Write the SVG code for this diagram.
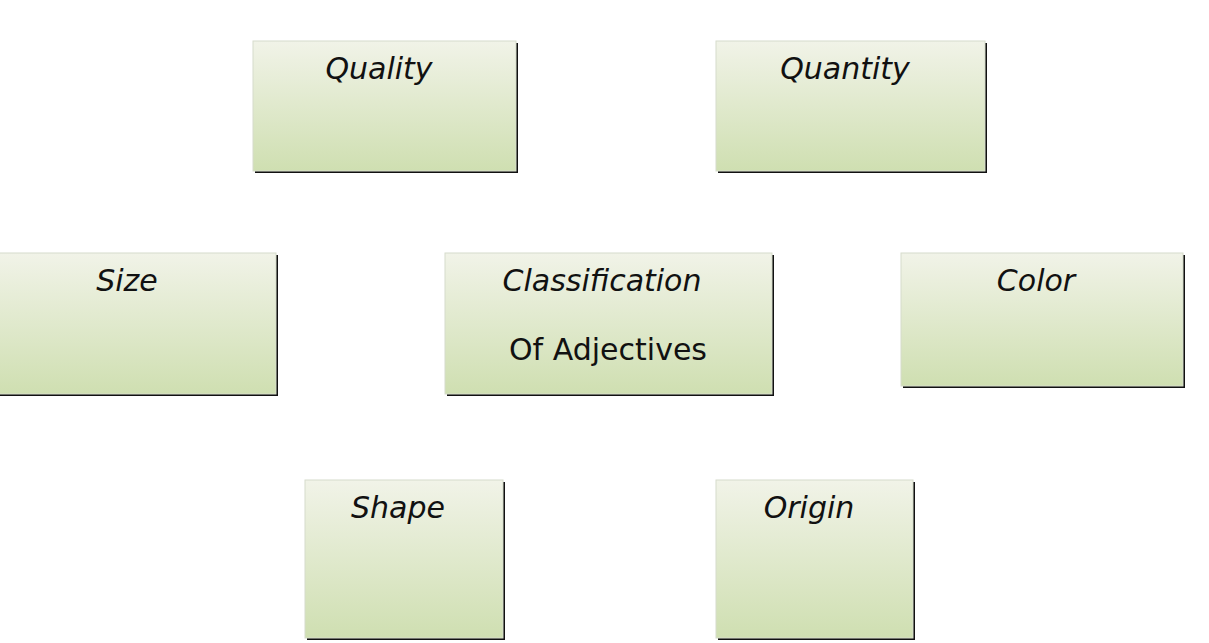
<svg xmlns="http://www.w3.org/2000/svg" width="1209" height="643" viewBox="0 0 1209 643">
<defs>
<linearGradient id="g" x1="0" y1="0" x2="0" y2="1">
<stop offset="0" stop-color="#f1f3e8"/>
<stop offset="1" stop-color="#cfdfb1"/>
</linearGradient>
<style>
.sh{fill:#111}
.bx{fill:url(#g);stroke:#d6dccb;stroke-width:1}
.t{font-family:"DejaVu Sans",sans-serif;font-size:30px;fill:#111;text-anchor:middle}
.i{font-style:oblique}
</style>
</defs>
<rect width="1209" height="643" fill="#fff"/>
<g id="quality"><rect class="sh" x="255" y="43" width="263" height="130"/><rect class="bx" x="253" y="41" width="263" height="130"/><text class="t i" x="379" y="79">Quality</text></g>
<g id="quantity"><rect class="sh" x="718" y="43" width="269" height="130"/><rect class="bx" x="716" y="41" width="269" height="130"/><text class="t i" x="845" y="79">Quantity</text></g>
<g id="size"><rect class="sh" x="-8" y="255" width="286" height="141"/><rect class="bx" x="-10" y="253" width="286" height="141"/><text class="t i" x="127" y="291">Size</text></g>
<g id="center"><rect class="sh" x="447" y="255" width="327" height="141"/><rect class="bx" x="445" y="253" width="327" height="141"/><text class="t i" x="602" y="291">Classification</text><text class="t" x="608" y="360">Of Adjectives</text></g>
<g id="color"><rect class="sh" x="903" y="255" width="282" height="133"/><rect class="bx" x="901" y="253" width="282" height="133"/><text class="t i" x="1036" y="291">Color</text></g>
<g id="shape"><rect class="sh" x="307" y="482" width="198" height="158"/><rect class="bx" x="305" y="480" width="198" height="158"/><text class="t i" x="398" y="518">Shape</text></g>
<g id="origin"><rect class="sh" x="718" y="482" width="197" height="158"/><rect class="bx" x="716" y="480" width="197" height="158"/><text class="t i" x="809" y="518">Origin</text></g>
<g id="connectors"></g>
</svg>
